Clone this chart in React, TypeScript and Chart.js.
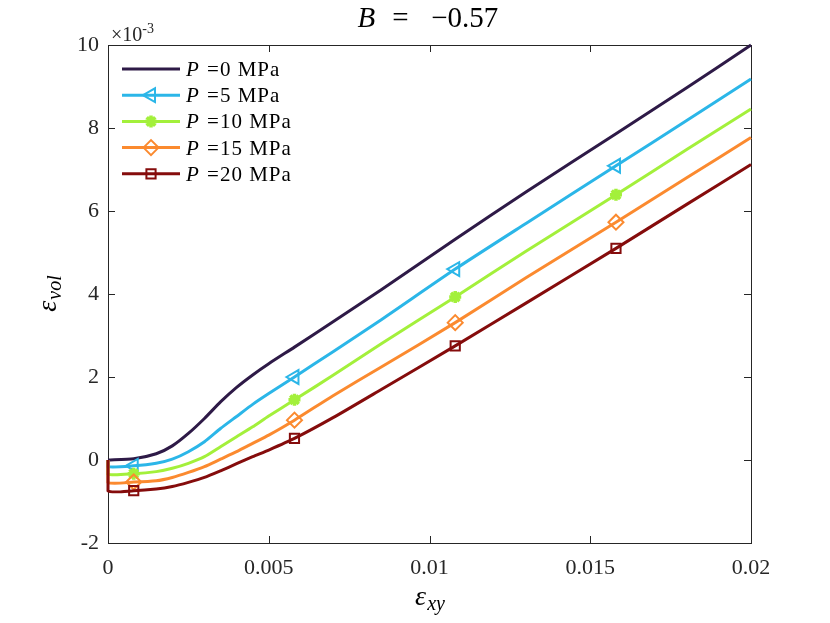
import { useEffect, useRef } from "react";
import { Chart, registerables } from "chart.js";
import { drawPoint } from "chart.js/helpers";

Chart.register(...registerables);

// shear strain (x) and volumetric strain (y, in units of 1e-3) per confining pressure
const strainXY = [
  0, 0, 0.0008, 0.0015, 0.002, 0.0025, 0.003, 0.0035, 0.004, 0.0045, 0.005,
  0.0058, 0.007, 0.0085, 0.0108, 0.013, 0.0158, 0.018, 0.02,
];
const volP0 = [
  0, 0, 0.03, 0.15, 0.34, 0.64, 1.0, 1.4, 1.75, 2.05, 2.32, 2.72, 3.33, 4.1,
  5.32, 6.46, 7.86, 8.97, 10.0,
];
const volP5 = [
  0, -0.16, -0.14, -0.08, 0.02, 0.2, 0.44, 0.76, 1.05, 1.34, 1.6, 2.0, 2.61,
  3.38, 4.6, 5.7, 7.09, 8.18, 9.18,
];
const volP10 = [
  0, -0.34, -0.33, -0.28, -0.2, -0.08, 0.08, 0.32, 0.56, 0.8, 1.06, 1.45,
  2.04, 2.8, 3.93, 5.03, 6.39, 7.48, 8.46,
];
const volP15 = [
  0, -0.54, -0.53, -0.5, -0.42, -0.3, -0.16, 0.02, 0.2, 0.4, 0.6, 0.96,
  1.55, 2.24, 3.31, 4.39, 5.73, 6.8, 7.77,
];
const volP20 = [
  0, -0.74, -0.74, -0.7, -0.64, -0.54, -0.42, -0.26, -0.09, 0.08, 0.24, 0.52,
  1.02, 1.7, 2.75, 3.78, 5.1, 6.16, 7.12,
];
const pressures = ["0", "5", "10", "15", "20"];
const markerX = [0.0008, 0.0058, 0.0108, 0.0158];

const xTicks = [0, 0.005, 0.01, 0.015, 0.02];
const xTickLabels = ["0", "0.005", "0.01", "0.015", "0.02"];
const yTicks = [-2, 0, 2, 4, 6, 8, 10];
const yTickLabels = ["-2", "0", "2", "4", "6", "8", "10"];

const SERIF = '"Liberation Serif", "Times New Roman", serif';
const AXIS_COLOR = "#262626";
const LINE_W = 3;

const seriesStyle = [
  { color: "#2e1a47", pointStyle: "line", rotation: 0, radius: 0, pw: 0 },
  { color: "#2bb6e8", pointStyle: "triangle", rotation: 270, radius: 8, pw: 2 },
  { color: "#a3f03b", pointStyle: "star", rotation: 0, radius: 6, pw: 3.5 },
  { color: "#fb8a2f", pointStyle: "rectRot", rotation: 0, radius: 7.5, pw: 2 },
  { color: "#850c0c", pointStyle: "rect", rotation: 0, radius: 6.5, pw: 2 },
];

const framePlugin = {
  id: "matlabFrame",
  beforeDatasetsDraw(chart: Chart) {
    const { ctx, chartArea: a, scales } = chart;
    ctx.save();
    ctx.strokeStyle = AXIS_COLOR;
    ctx.lineWidth = 1;
    ctx.strokeRect(a.left + 0.5, a.top + 0.5, a.right - a.left, a.bottom - a.top);
    ctx.beginPath();
    const tl = 7;
    xTicks.forEach((v) => {
      const px = Math.round(scales.x.getPixelForValue(v)) + 0.5;
      ctx.moveTo(px, a.bottom);
      ctx.lineTo(px, a.bottom - tl);
      ctx.moveTo(px, a.top);
      ctx.lineTo(px, a.top + tl);
    });
    yTicks.forEach((v) => {
      const py = Math.round(scales.y.getPixelForValue(v)) + 0.5;
      ctx.moveTo(a.left, py);
      ctx.lineTo(a.left + tl, py);
      ctx.moveTo(a.right, py);
      ctx.lineTo(a.right - tl, py);
    });
    ctx.stroke();
    ctx.restore();
  },
  afterDraw(chart: Chart) {
    const { ctx, chartArea: a } = chart;
    ctx.save();
    ctx.fillStyle = "#000";
    ctx.textBaseline = "alphabetic";
    const cx = (a.left + a.right) / 2;

    // title: B = −0.57, spaced like the LaTeX original
    ctx.font = `italic 29px ${SERIF}`;
    ctx.textAlign = "left";
    ctx.fillText("B", cx - 72, 27);
    ctx.font = `29px ${SERIF}`;
    ctx.textAlign = "center";
    ctx.fillText("=", cx - 29, 27);
    ctx.textAlign = "right";
    ctx.fillText("\u2212", cx + 18, 27);
    ctx.textAlign = "left";
    ctx.fillText("0.57", cx + 18, 27);

    // exponent
    ctx.fillStyle = AXIS_COLOR;
    ctx.font = `20px ${SERIF}`;
    ctx.fillText("\u00d710", a.left + 3, 41);
    const wE = ctx.measureText("\u00d710").width;
    ctx.font = `14px ${SERIF}`;
    ctx.fillText("-3", a.left + 3 + wE, 33);

    // x-axis title
    ctx.fillStyle = "#000";
    ctx.font = `italic 28px ${SERIF}`;
    const wEps = ctx.measureText("\u03b5").width;
    ctx.font = `italic 20px ${SERIF}`;
    const wXY = ctx.measureText("xy").width;
    const tx = cx - (wEps + wXY) / 2;
    ctx.font = `italic 28px ${SERIF}`;
    ctx.fillText("\u03b5", tx, 605);
    ctx.font = `italic 20px ${SERIF}`;
    ctx.fillText("xy", tx + wEps + 1, 610);

    // y-axis title
    const cy = (a.top + a.bottom) / 2;
    ctx.save();
    ctx.translate(56, cy);
    ctx.rotate(-Math.PI / 2);
    ctx.font = `italic 20px ${SERIF}`;
    const wVol = ctx.measureText("vol").width;
    ctx.font = `italic 28px ${SERIF}`;
    const ty = -(wEps + wVol) / 2;
    ctx.fillText("\u03b5", ty, 0);
    ctx.font = `italic 20px ${SERIF}`;
    ctx.fillText("vol", ty + wEps + 1, 5);
    ctx.restore();

    // legend
    seriesStyle.forEach((s, i) => {
      const ly = 69 + i * 26.2;
      ctx.strokeStyle = s.color;
      ctx.lineWidth = LINE_W;
      ctx.beginPath();
      ctx.moveTo(122, ly);
      ctx.lineTo(180, ly);
      ctx.stroke();
      if (s.radius > 0) {
        ctx.fillStyle = "rgba(0,0,0,0)";
        ctx.lineWidth = s.pw;
        drawPoint(
          ctx,
          { pointStyle: s.pointStyle, rotation: s.rotation, radius: s.radius, borderWidth: s.pw } as any,
          151,
          ly
        );
      }
      ctx.fillStyle = "#000";
      (ctx as any).letterSpacing = "1px";
      ctx.font = `italic 21px ${SERIF}`;
      ctx.fillText("P", 186, ly + 7);
      const wP = ctx.measureText("P").width;
      ctx.font = `21px ${SERIF}`;
      ctx.fillText(" =" + pressures[i] + " MPa", 187 + wP, ly + 7);
      (ctx as any).letterSpacing = "0px";
    });
    ctx.restore();
  },
};

export default function App() {
  const canvasRef = useRef<HTMLCanvasElement>(null);

  useEffect(() => {
    document.body.style.margin = "0";
    const canvas = canvasRef.current;
    if (!canvas) return;

    const series = [volP0, volP5, volP10, volP15, volP20];
    const datasets = series.map((vals, i) => {
      const s = seriesStyle[i];
      return {
        label: `P =${pressures[i]} MPa`,
        data: strainXY.map((x, j) => ({ x, y: vals[j] })),
        borderColor: s.color,
        borderWidth: LINE_W,
        tension: 0.2,
        pointStyle: s.pointStyle,
        pointRotation: s.rotation,
        pointRadius: (c: any) =>
          s.radius > 0 && markerX.includes(strainXY[c.dataIndex]) ? s.radius : 0,
        pointBorderWidth: s.pw,
        pointBorderColor: s.color,
        pointBackgroundColor: "rgba(0,0,0,0)",
        order: 5 - i,
        clip: 6,
      };
    });

    const chart = new Chart(canvas, {
      type: "line",
      data: { datasets } as any,
      options: {
        animation: false,
        responsive: false,
        devicePixelRatio: 1,
        layout: { padding: { top: 45, right: 79, left: 0, bottom: 0 } },
        plugins: { legend: { display: false }, tooltip: { enabled: false } },
        scales: {
          x: {
            type: "linear",
            min: 0,
            max: 0.02,
            afterFit: (s: any) => {
              s.height = 80;
            },
            afterBuildTicks: (s: any) => {
              s.ticks = xTicks.map((v) => ({ value: v }));
            },
            ticks: {
              font: { family: SERIF, size: 22 },
              color: AXIS_COLOR,
              padding: 12,
              maxRotation: 0,
              autoSkip: false,
              callback: (_v: any, idx: number) => xTickLabels[idx],
            },
            grid: { display: false, drawTicks: false },
            border: { display: false },
          },
          y: {
            type: "linear",
            min: -2,
            max: 10,
            afterFit: (s: any) => {
              s.width = 108;
            },
            afterBuildTicks: (s: any) => {
              s.ticks = yTicks.map((v) => ({ value: v }));
            },
            ticks: {
              font: { family: SERIF, size: 22 },
              color: AXIS_COLOR,
              padding: 9,
              autoSkip: false,
              callback: (_v: any, idx: number) => yTickLabels[idx],
            },
            grid: { display: false, drawTicks: false },
            border: { display: false },
          },
        },
      },
      plugins: [framePlugin],
    });

    return () => {
      chart.destroy();
    };
  }, []);

  return (
    <div style={{ width: 830, height: 623, background: "#fff" }}>
      <canvas ref={canvasRef} width={830} height={623} />
    </div>
  );
}
